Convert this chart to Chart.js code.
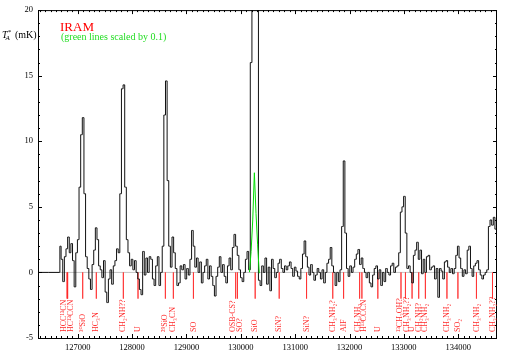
<!DOCTYPE html>
<html>
<head>
<meta charset="utf-8">
<script src="https://cdn.jsdelivr.net/npm/chart.js@4.4.1/dist/chart.umd.min.js"></script>
<style>
  html, body { margin: 0; padding: 0; background: #fff; }
  #wrap { width: 509px; height: 356px; }
</style>
</head>
<body>
<div id="wrap"><canvas id="grafico"></canvas></div>
<script>
// Eje de frecuencia (MHz) y temperatura (mK)
const xMin = 126270, xMax = 134713;
const xTicks = [127000, 128000, 129000, 130000, 131000, 132000, 133000, 134000];
const yTicks = [-5, 0, 5, 10, 15, 20];

// Canales del espectro: inicio y ancho de canal (MHz)
const chanStart = 126680, chanStep = 30;
const ta = [
  2.0, 1.0, -0.7, 1.2, 1.8, 2.7, 1.5, 2.2, 0.9, -1.1,
  1.5, 2.5, 6.5, 10.5, 11.8, 6.0, 1.2, 0.3, -0.5, -1.3,
  0.6, 1.7, 3.4, 2.5, 0.5, 0.2, -0.4, 0.9, -1.5, -2.3,
  -0.5, 0.2, -0.9, 0.5, 0.9, 1.8, 1.5, 6.0, 14.0, 14.3,
  6.5, 2.5, 1.5, 0.5, 1.0, 0.2, 0.9, 0.0, -0.5, -1.3,
  -1.7, 1.6, -0.2, 1.1, 0.0, 1.2, 1.0, -0.5, -1.0, 0.5,
  1.2, -1.0, 0.0, 2.0, 12.0, 14.6, 7.0, 2.0, 0.4, 2.7,
  1.5, 0.3, -1.0, -0.8, 0.5, 0.2, 0.6, -0.5, 0.3, -0.2,
  1.0, 3.2, 2.0, 0.4, 1.1, 0.0, 0.8, -0.8, 0.0, 0.5,
  1.0, -0.5, 0.5, -0.3, -1.0, -1.8, -0.3, 0.4, 1.2, 0.0,
  0.6, -0.3, -0.8, 0.5, 1.1, 0.2, 1.9, 2.9, 2.0, 1.3,
  0.2, -0.4, -0.7, 0.0, 1.0, 1.6, 0.2, 16, 40, 76,
  45, 21, -0.6, -1.0, 0.5, 0.0, 1.1, -0.9, 0.4, -1.4,
  1.0, 0.3, -0.4, 0.0, 0.7, 1.0, 0.3, 0.0, 0.5, 0.2,
  0.5, 0.8, 0.3, -0.3, 0.4, 0.1, -0.3, -0.5, 0.3, 1.4,
  2.4, 1.2, 0.4, -0.2, 0.6, 0.0, -0.6, -0.2, 0.3, 0.0,
  -0.5, 0.2, -0.8, 0.0, 0.7, 1.0, 1.9, 0.5, 0.0, -1.0,
  0.0, -0.7, 0.2, 3.5, 8.5, 3.0, 0.3, -0.3, 0.5, 0.0,
  0.4, 1.0, 1.4, 1.75, 0.6, 1.1, 0.3, 0.0, -0.4, 0.0,
  -0.8, -1.1, -0.2, 0.3, 0.5, -0.5, 0.2, -1.0, 0.0, -0.7,
  0.3, 0.0, -0.2, 0.5, 0.7, 0.0, 0.4, 0.5, 1.5, 4.6,
  5.0, 5.8, 3.0, 0.3, 0.5, 0.0, -0.8, 1.3, 1.7, 2.3,
  1.0, 1.7, -0.1, 1.0, 0.0, 1.2, 1.3, 0.2, 0.4, 0.5,
  -0.5, 0.3, -1.9, 0.3, 0.1, -0.5, 0.8, 0.9, 0.4, 0.0,
  0.3, -0.1, 0.3, 1.3, 2.0, 1.1, 0.3, -0.3, 0.2, -0.1,
  1.7, 2.0, 0.3, -0.3, 0.5, 0.7, 0.9, 0.2, -0.2, -0.5,
  -0.2, 0.0, 0.2, 3.5, 4.0, 3.6, 4.2, 3.3, 4.0
];

// Tramo dibujado en verde, escalado por 0.1
const greenFrom = 116, greenTo = 122, greenScale = 0.1;

// Identificaciones de lineas (MHz)
const lineFreqs = [
  126805, 126815, 127092, 127343, 127840, 128110, 128613, 128760, 129129,
  129906, 129939, 130265, 130707, 131210, 131692, 131891, 132186, 132228,
  132521, 132947, 133029, 133151, 133273, 133396, 133792, 133994, 134335, 134630
];
const lineNames = [
  'HCC¹³CN', 'HC¹³CCN', '³⁰SiO', 'HC₃N', 'CH₂NH??', 'U', '²⁹SiO', 'CH₃CN', 'SO',
  'OSB-CS?', 'SO?', 'SiO', 'SiN?', 'SiN?', 'CH₃NH₂?', 'AlF', 'CH₃NH₂', 'H¹³CCCN',
  'U', '¹³CH₃OH?', 'CH₃NH₂??', 'U', 'CH₂NH?', 'CH₃NH₂', 'CH₃NH₂', 'SO₂', 'CH₃NH₂', 'CH₃NH₂??'
];

const SERIF = '"Liberation Serif", "DejaVu Serif", serif';

// Puntos del espectro (con el tramo plano inicial)
const espectro = [{ x: xMin, y: 0 }, { x: chanStart - chanStep / 2, y: 0 }]
  .concat(ta.map((v, i) => ({ x: chanStart + i * chanStep, y: v })));
const verde = [];
for (let i = greenFrom; i <= greenTo; i++) {
  verde.push({ x: chanStart + i * chanStep, y: ta[i] * greenScale });
}
const marcas = [];
lineFreqs.forEach(f => {
  marcas.push({ x: f, y: 0 }, { x: f, y: -2 }, { x: f, y: null });
});

// Marco, ticks hacia dentro, etiquetas y textos
const marcoPlugin = {
  id: 'marco',
  afterDraw(chart) {
    const { ctx, chartArea: a, scales: { x, y } } = chart;
    ctx.save();
    ctx.strokeStyle = '#000';
    ctx.lineWidth = 1;
    ctx.strokeRect(a.left + 0.5, a.top + 0.5, a.right - a.left - 1, a.bottom - a.top);

    ctx.beginPath();
    for (let v = 126300; v <= xMax; v += 100) {
      const px = Math.round(x.getPixelForValue(v)) + 0.5;
      const len = v % 1000 === 0 ? 4 : 2;
      ctx.moveTo(px, a.bottom); ctx.lineTo(px, a.bottom - len);
      ctx.moveTo(px, a.top); ctx.lineTo(px, a.top + len);
    }
    for (let v = -5; v <= 20; v += 1) {
      const py = Math.round(y.getPixelForValue(v)) + 0.5;
      const len = v % 5 === 0 ? 4 : 2;
      ctx.moveTo(a.left, py); ctx.lineTo(a.left + len, py);
      ctx.moveTo(a.right, py); ctx.lineTo(a.right - len, py);
    }
    ctx.stroke();

    // etiquetas de lineas, separadas si se pisan
    const pos = lineFreqs.map(f => x.getPixelForValue(f));
    const gap = 6.5;
    const lx = pos.slice();
    let grupo = [0];
    const cerrar = g => {
      const m = g.reduce((s, i) => s + pos[i], 0) / g.length;
      g.forEach((i, k) => { lx[i] = m + (k - (g.length - 1) / 2) * gap; });
    };
    for (let i = 1; i < pos.length; i++) {
      if (pos[i] - pos[i - 1] < gap) grupo.push(i);
      else { cerrar(grupo); grupo = [i]; }
    }
    cerrar(grupo);
    ctx.fillStyle = '#ff2a2a';
    ctx.font = '8px ' + SERIF;
    ctx.textAlign = 'left';
    ctx.textBaseline = 'middle';
    lineNames.forEach((t, i) => {
      ctx.save();
      ctx.translate(lx[i], 332);
      ctx.rotate(-Math.PI / 2);
      ctx.fillText(t, 0, 0);
      ctx.restore();
    });

    // titulo
    ctx.textBaseline = 'alphabetic';
    ctx.fillStyle = '#f00';
    ctx.font = '13px ' + SERIF;
    ctx.fillText('IRAM', 60, 31);
    ctx.fillStyle = '#22dd22';
    ctx.font = '10px ' + SERIF;
    ctx.fillText('(green lines scaled by 0.1)', 61, 39.5);

    // eje Y: T*_A (mK)
    ctx.fillStyle = '#000';
    ctx.font = 'italic 10px ' + SERIF;
    ctx.fillText('T', 2, 37.5);
    ctx.font = 'italic 7px ' + SERIF;
    ctx.fillText('*', 7.5, 34);
    ctx.fillText('A', 5.5, 40);
    ctx.font = '10px ' + SERIF;
    ctx.fillText('(mK)', 15, 37.5);
    ctx.restore();
  }
};

const ctx = document.getElementById('grafico').getContext('2d');
const grafico = new Chart(ctx, {
  type: 'scatter',
  data: {
    datasets: [
      { data: verde, showLine: true, borderColor: '#00dd00', borderWidth: 1, pointRadius: 0 },
      { data: espectro, showLine: true, stepped: 'middle', borderColor: '#111', borderWidth: 1, pointRadius: 0 },
      { data: marcas, showLine: true, spanGaps: false, borderColor: 'rgba(255,30,30,0.55)', borderWidth: 1, pointRadius: 0 },
      { data: [{ x: xMin, y: 0 }, { x: xMax, y: 0 }], showLine: true, borderColor: '#aaa', borderWidth: 0.7, pointRadius: 0 }
    ]
  },
  options: {
    responsive: true,
    maintainAspectRatio: false,
    animation: false,
    layout: { padding: { top: 10, right: 12, left: 0, bottom: 0 } },
    plugins: { legend: { display: false }, tooltip: { enabled: false } },
    scales: {
      x: {
        type: 'linear', min: xMin, max: xMax,
        grid: { display: false, drawTicks: false },
        border: { display: false },
        afterBuildTicks: s => { s.ticks = xTicks.map(v => ({ value: v })); },
        afterFit: s => { s.height = 18; },
        ticks: {
          autoSkip: false, maxRotation: 0, padding: 5, color: '#000',
          font: { family: SERIF, size: 8.5 },
          callback: v => String(v)
        }
      },
      y: {
        min: -5, max: 20,
        grid: { display: false, drawTicks: false },
        border: { display: false },
        afterBuildTicks: s => { s.ticks = yTicks.map(v => ({ value: v })); },
        afterFit: s => { s.width = 38; },
        ticks: {
          padding: 5, color: '#000',
          font: { family: SERIF, size: 8.5 },
          callback: v => String(v)
        }
      }
    }
  },
  plugins: [marcoPlugin]
});
</script>
</body>
</html>
